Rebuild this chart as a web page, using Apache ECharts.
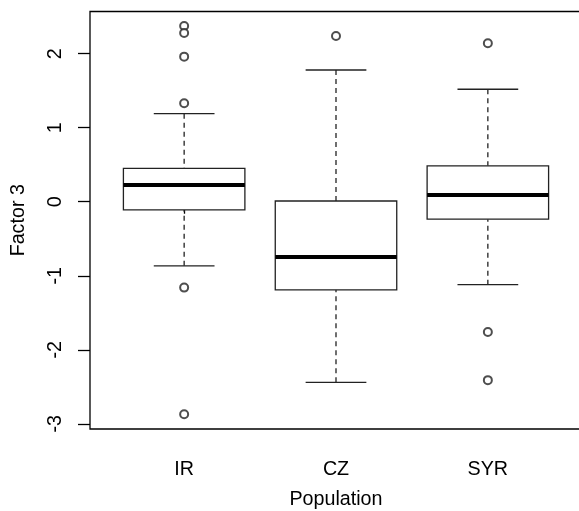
<!DOCTYPE html>
<html>
<head>
<meta charset="utf-8">
<script src="https://cdn.jsdelivr.net/npm/echarts@6/dist/echarts.min.js"></script>
<style>
    html, body { margin: 0; padding: 0; background: #fff; }
    #chart { width: 579px; height: 511px; }
</style>
</head>
<body>
<div id="chart"></div>
<script>
// populations on the x axis (positions 1..3)
const categories = ['IR', 'CZ', 'SYR'];
// five-number summaries: [lower whisker, Q1, median, Q3, upper whisker]
const lowWhisker = [-0.865, -2.44, -1.12];
const q1 = [-0.11, -1.19, -0.235];
const median = [0.225, -0.745, 0.09];
const q3 = [0.45, 0.01, 0.485];
const highWhisker = [1.19, 1.78, 1.52];
// outliers: [category index, value]
const outliers = [
    [0, 2.375], [0, 2.28], [0, 1.96], [0, 1.33], [0, -1.16], [0, -2.87],
    [1, 2.24],
    [2, 2.14], [2, -1.76], [2, -2.41]
];
const yTicks = [-3, -2, -1, 0, 1, 2];

const font = 'Liberation Sans, Arial, sans-serif';

let myChart = echarts.init(document.getElementById('chart'));

let boxData = categories.map(function (c, i) {
    return [i + 1, lowWhisker[i], q1[i], median[i], q3[i], highWhisker[i]];
});

function renderBox(params, api) {
    let x = api.value(0);
    let lo = api.coord([x, api.value(1)]);
    let b1 = api.coord([x, api.value(2)]);
    let md = api.coord([x, api.value(3)]);
    let b3 = api.coord([x, api.value(4)]);
    let hi = api.coord([x, api.value(5)]);
    let boxL = api.coord([x - 0.4, 0])[0];
    let boxR = api.coord([x + 0.4, 0])[0];
    let capL = api.coord([x - 0.2, 0])[0];
    let capR = api.coord([x + 0.2, 0])[0];
    let line = { stroke: '#222', lineWidth: 1.3, fill: null };
    let dash = { stroke: '#222', lineWidth: 1.3, lineDash: [5, 4], fill: null };
    return {
        type: 'group',
        children: [
            { type: 'line', shape: { x1: hi[0], y1: hi[1], x2: b3[0], y2: b3[1] }, style: dash },
            { type: 'line', shape: { x1: lo[0], y1: lo[1], x2: b1[0], y2: b1[1] }, style: dash },
            { type: 'line', shape: { x1: capL, y1: hi[1], x2: capR, y2: hi[1] }, style: line },
            { type: 'line', shape: { x1: capL, y1: lo[1], x2: capR, y2: lo[1] }, style: line },
            { type: 'rect', shape: { x: boxL, y: b3[1], width: boxR - boxL, height: b1[1] - b3[1] },
              style: { stroke: '#222', lineWidth: 1.3, fill: '#fff' } },
            { type: 'line', shape: { x1: boxL, y1: md[1], x2: boxR, y2: md[1] },
              style: { stroke: '#000', lineWidth: 4 } }
        ]
    };
}

let option = {
    animation: false,
    grid: {
        left: 90,
        top: 11.5,
        width: 492,
        height: 417.5,
        containLabel: false,
        outerBoundsMode: 'none',
        show: true,
        borderColor: '#000',
        borderWidth: 1.3,
        backgroundColor: 'transparent'
    },
    xAxis: {
        type: 'value',
        min: 0.38,
        max: 3.62,
        name: 'Population',
        nameLocation: 'middle',
        nameGap: 61,
        nameTextStyle: { fontFamily: font, fontSize: 19.7, color: '#000' },
        splitLine: { show: false },
        axisLine: { show: false },
        axisTick: {
            show: true, length: 12, customValues: [1, 2, 3],
            lineStyle: { color: '#000', width: 1.3 }
        },
        axisLabel: {
            customValues: [1, 2, 3],
            margin: 31,
            fontFamily: font,
            fontSize: 19.7,
            color: '#000',
            formatter: function (v) { return categories[Math.round(v) - 1]; }
        }
    },
    yAxis: {
        type: 'value',
        min: -3.07,
        max: 2.57,
        name: 'Factor 3',
        nameLocation: 'middle',
        nameRotate: 90,
        nameGap: 61,
        nameTextStyle: { fontFamily: font, fontSize: 19.7, color: '#000' },
        splitLine: { show: false },
        axisLine: { show: false },
        axisTick: {
            show: true, length: 12, customValues: yTicks,
            lineStyle: { color: '#000', width: 1.3 }
        },
        axisLabel: {
            customValues: yTicks,
            rotate: 90,
            margin: 24,
            fontFamily: font,
            fontSize: 19.7,
            color: '#000'
        }
    },
    series: [
        {
            type: 'custom',
            renderItem: renderBox,
            data: boxData,
            clip: false
        },
        {
            type: 'scatter',
            symbol: 'emptyCircle',
            symbolSize: 8,
            itemStyle: { color: '#222', borderColor: '#222', borderWidth: 1.3 },
            data: outliers.map(function (o) { return [o[0] + 1, o[1]]; })
        }
    ]
};
myChart.setOption(option);
</script>
</body>
</html>
